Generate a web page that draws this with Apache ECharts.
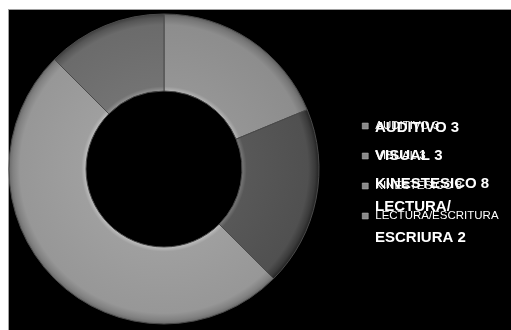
<!DOCTYPE html>
<html>
<head>
<meta charset="utf-8">
<script src="https://cdn.jsdelivr.net/npm/echarts@6/dist/echarts.min.js"></script>
<style>
  html, body { margin: 0; padding: 0; background: #ffffff; }
  #frame { position: absolute; left: 8px; top: 9px; width: 503px; height: 321px;
           background: #000000; border-top: 1px solid #a0a0a0; border-left: 1px solid #a0a0a0; box-sizing: border-box; }
  #chart { position: absolute; left: 0; top: 0; width: 511px; height: 330px; }
</style>
</head>
<body>
<div id="frame"></div>
<div id="chart"></div>
<script>
// Learning-style survey results
const categories = ['AUDITIVO', 'VISUAL', 'KINESTESICO', 'LECTURA/ESCRITURA'];
const values = [3, 3, 8, 2];
// small legend text per slice
const legendLabels = ['AUDITIVO 3', 'VISUAL 3', 'KINESTESICO 8', 'LECTURA/ESCRITURA'];
// bold overlay text per slice
const boldLabels = ['AUDITIVO 3', 'VISUAL 3', 'KINESTESICO 8', 'LECTURA/\nESCRIURA 2'];
const sliceColors = ['#8d8d8d', '#505050', '#979797', '#6b6b6b'];

const cx = 164, cy = 169, rIn = 78, rOut = 155;

function shade(hex, amt) {
  const n = parseInt(hex.slice(1), 16);
  const c = [(n >> 16) & 255, (n >> 8) & 255, n & 255].map(v => Math.max(0, Math.min(255, Math.round(v + amt))));
  return 'rgb(' + c.join(',') + ')';
}

function bevel(base) {
  const k = rIn / rOut;
  return {
    type: 'radial', x: cx, y: cy, r: rOut, global: true,
    colorStops: [
      { offset: 0, color: base },
      { offset: k, color: shade(base, 40) },
      { offset: k + 0.03, color: shade(base, 8) },
      { offset: 0.93, color: shade(base, 0) },
      { offset: 0.975, color: shade(base, -22) },
      { offset: 1, color: shade(base, -45) }
    ]
  };
}

const pieData = categories.map((c, i) => ({
  name: legendLabels[i],
  value: values[i],
  itemStyle: { color: bevel(sliceColors[i]) }
}));

// bold text: multi-line entries get a short first line and a tall second line
const nameToBold = {};
legendLabels.forEach((n, i) => {
  const lines = boldLabels[i].split('\n');
  nameToBold[n] = lines.length > 1
    ? '{l1|' + lines[0] + '}\n{l2|' + lines[1] + '}'
    : boldLabels[i];
});

const boldFont = { color: '#ffffff', fontSize: 15, fontWeight: 'bold', fontFamily: 'Liberation Sans' };

const chart = echarts.init(document.getElementById('chart'), null, { renderer: 'canvas' });
chart.setOption({
  backgroundColor: 'transparent',
  animation: false,
  legend: [
    {
      orient: 'vertical',
      left: 357, top: 114,
      itemWidth: 6, itemHeight: 6, itemGap: 16,
      icon: 'rect',
      itemStyle: { color: '#8a8a8a', borderColor: '#bbbbbb', borderWidth: 0.5 },
      textStyle: { color: '#ffffff', fontSize: 11.5, lineHeight: 14, fontFamily: 'Liberation Sans', padding: [0, 0, 0, 2] },
      data: legendLabels
    },
    {
      orient: 'vertical',
      left: 357, top: 109,
      icon: 'none',
      itemWidth: 8, itemHeight: 6, itemGap: 0,
      textStyle: Object.assign({}, boldFont, {
        lineHeight: 28,
        rich: {
          l1: Object.assign({}, boldFont, { lineHeight: 18 }),
          l2: Object.assign({}, boldFont, { lineHeight: 44 })
        }
      }),
      formatter: name => nameToBold[name],
      data: legendLabels
    }
  ],
  series: [{
    type: 'pie',
    center: [cx, cy],
    radius: [rIn, rOut],
    startAngle: 90,
    clockwise: true,
    label: { show: false },
    labelLine: { show: false },
    itemStyle: { borderColor: '#4a4a4a', borderWidth: 1 },
    emphasis: { disabled: true },
    data: pieData
  }]
});
</script>
</body>
</html>
